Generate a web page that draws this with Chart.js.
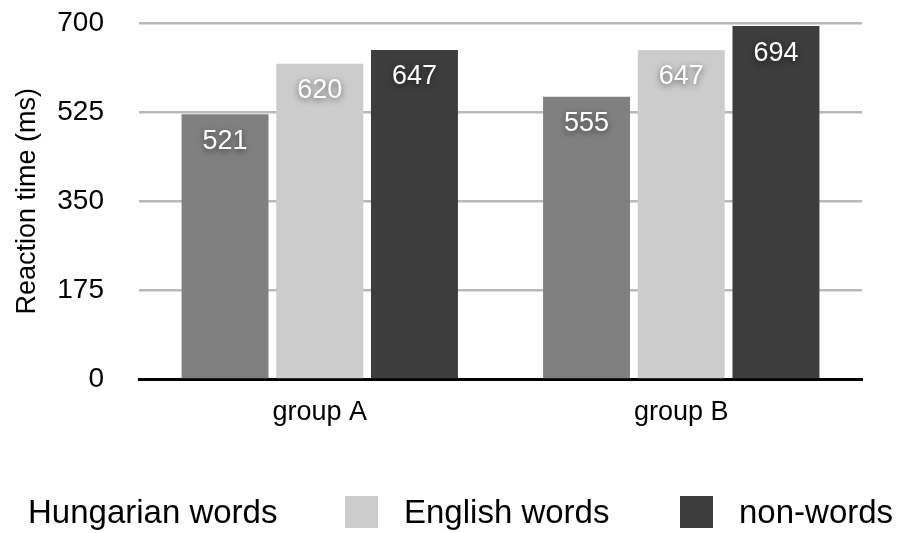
<!DOCTYPE html>
<html>
<head>
<meta charset="utf-8">
<script src="https://cdn.jsdelivr.net/npm/chart.js@4/dist/chart.umd.min.js"></script>
<style>
  html, body { margin: 0; padding: 0; background: #fff; }
  #wrap { position: relative; width: 903px; height: 533px; font-family: "Liberation Sans", Arial, Helvetica, sans-serif; }
  #chart { position: absolute; left: 0; top: 0; }
  .legend-item { position: absolute; top: 495px; height: 34px; display: flex; align-items: center; font-size: 33px; color: #000; white-space: nowrap; }
  .legend-box { width: 33px; height: 32px; margin-right: 26px; }
</style>
</head>
<body>
<div id="wrap">
  <canvas id="chart" width="903" height="533"></canvas>
  <div class="legend-item" style="left:28px;"><span>Hungarian words</span></div>
  <div class="legend-item" style="left:345px;"><span class="legend-box" style="background:#cbcccb"></span><span>English words</span></div>
  <div class="legend-item" style="left:680px;"><span class="legend-box" style="background:#3c3d3c"></span><span>non-words</span></div>
</div>
<script>
// Reaction time by group, grouped bars with value labels inside

const categories = ['group A', 'group B'];
const hungarianWords = [521, 555];
const englishWords = [620, 647];
const nonWords = [647, 694];
const yTicks = [0, 175, 350, 525, 700];

const FONT = '"Liberation Sans", Arial, Helvetica, sans-serif';

// white numbers inside the top of each bar, with a soft shadow
const valueLabels = {
  id: 'valueLabels',
  afterDatasetsDraw(chart) {
    const ctx = chart.ctx;
    ctx.save();
    ctx.font = '27px ' + FONT;
    ctx.fillStyle = '#fff';
    ctx.textAlign = 'center';
    ctx.textBaseline = 'middle';
    ctx.shadowColor = 'rgba(0,0,0,0.55)';
    ctx.shadowBlur = 6;
    ctx.shadowOffsetY = 2;
    chart.data.datasets.forEach((ds, i) => {
      chart.getDatasetMeta(i).data.forEach((bar, j) => {
        ctx.fillText(String(ds.data[j]), bar.x, bar.y + 27);
      });
    });
    ctx.restore();
  }
};

new Chart(document.getElementById('chart'), {
  type: 'bar',
  data: {
    labels: categories,
    datasets: [
      { label: 'Hungarian words', data: hungarianWords, backgroundColor: '#7f807f' },
      { label: 'English words', data: englishWords, backgroundColor: '#cbcccb' },
      { label: 'non-words', data: nonWords, backgroundColor: '#3c3d3c' }
    ]
  },
  options: {
    responsive: false,
    animation: false,
    categoryPercentage: 0.786,
    barPercentage: 0.918,
    layout: { padding: { left: 0, right: 41, top: 23, bottom: 103.5 } },
    plugins: { legend: { display: false }, tooltip: { enabled: false } },
    scales: {
      x: {
        grid: { display: false, drawTicks: false },
        border: { display: true, color: '#000', width: 3 },
        ticks: { color: '#000', font: { family: FONT, size: 27 }, padding: 17 },
        afterFit(scale) { scale.height = 50; scale.paddingLeft = 0; scale.paddingRight = 0; }
      },
      y: {
        min: 0,
        max: 700,
        afterBuildTicks(scale) { scale.ticks = yTicks.map(v => ({ value: v })); },
        grid: { color: '#b9b9b9', lineWidth: 2.5, drawTicks: false },
        border: { display: false },
        ticks: { color: '#000', font: { family: FONT, size: 28 }, padding: 35 },
        title: {
          display: true,
          text: 'Reaction time (ms)',
          color: '#000',
          font: { family: FONT, size: 27 },
          padding: { top: 11, bottom: 0 }
        },
        afterFit(scale) { scale.width = 139; scale.paddingTop = 0; scale.paddingBottom = 0; }
      }
    }
  },
  plugins: [valueLabels]
});
</script>
</body>
</html>
